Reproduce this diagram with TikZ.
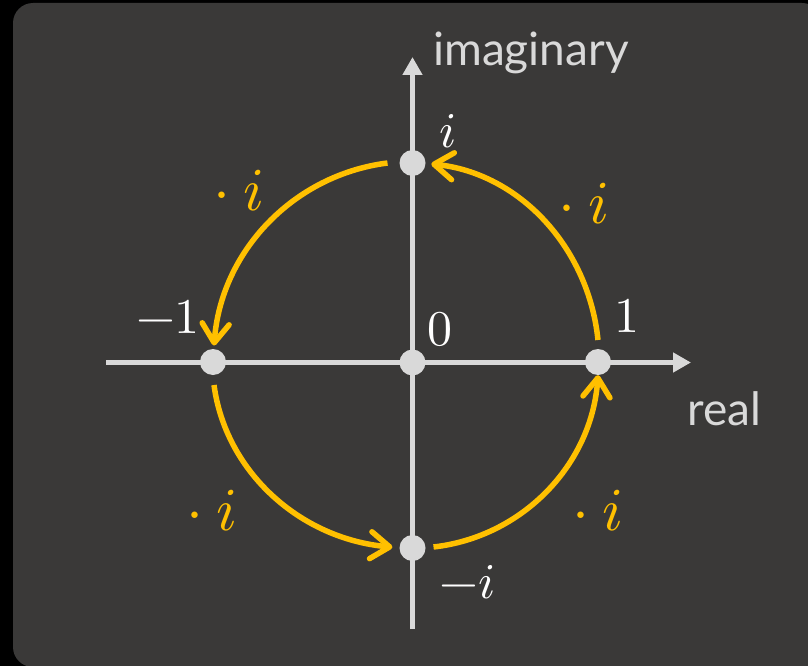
\documentclass[tikz,border=0pt]{standalone}
\usepackage{fontspec}
\usepackage{unicode-math}
\setmathfont{Latin Modern Math}
\setsansfont{Lato}
\usetikzlibrary{arrows.meta}
\definecolor{bgdark}{HTML}{3A3938}
\definecolor{amber}{HTML}{FFC000}
\definecolor{axisgray}{HTML}{D9D9D9}
\begin{document}
\begin{tikzpicture}[x=1pt,y=1pt,
  axis/.style={line width=5.5pt, draw=axisgray, -{Triangle[length=18pt,width=19pt]}},
  pt/.style={circle, fill=axisgray, minimum size=26pt, inner sep=0pt},
  turn/.style={line width=5.5pt, draw=amber, -{Straight Barb[length=19pt,width=27pt,round]}},
  mlab/.style={text=white, font=\fontsize{50}{60}\selectfont, inner sep=0pt, anchor=base},
  olab/.style={text=amber, font=\fontsize{61}{70}\selectfont, inner sep=0pt, anchor=base},
  alab/.style={text=axisgray, font=\sffamily\fontsize{46}{55}\selectfont, inner sep=0pt, anchor=base west}]
\useasboundingbox (0,0) rectangle (808,-666);
\fill[black] (0,0) rectangle (808,-666);
\begin{scope}
\clip (0,0) rectangle (808,-666);
\fill[bgdark, rounded corners=20pt] (13,-3) rectangle (822,-667);
\end{scope}
% axes
\coordinate (xl) at (106,-362.5);
\coordinate (xr) at (691,-362.5);
\coordinate (yb) at (412.5,-629);
\coordinate (yt) at (412.5,-57);
\draw[axis] (xl) -- (xr);
\draw[axis] (yb) -- (yt);
% points
\node[pt] (p0) at (412.5,-362.5) {};
\node[pt] (p1) at (598,-362) {};
\node[pt] (pi) at (412.5,-163) {};
\node[pt] (pm1) at (213,-362) {};
\node[pt] (pmi) at (412.5,-548) {};
% quarter turns (multiplication by i)
\draw[turn] ([yshift=22pt]p1.center) arc[start angle=6.35, end angle=84.4, x radius=186, y radius=199];
\draw[turn] ([xshift=-25pt]pi.center) arc[start angle=97.2, end angle=175.7, x radius=199, y radius=199];
\draw[turn] ([xshift=1pt,yshift=-23pt]pm1.center) arc[start angle=187.1, end angle=264.5, x radius=199, y radius=186];
\draw[turn] ([xshift=21pt,yshift=1pt]pmi.center) arc[start angle=276.5, end angle=356, x radius=186, y radius=186];
% labels
\node[mlab] (li) at (448,-147) {$i$};
\node[mlab] (l0) at (440,-345) {$0$};
\node[mlab] (l1) at (627,-332) {$1$};
\node[mlab] (lm1) at (168,-333) {$-1$};
\node[mlab] (lmi) at (468,-598) {$-i$};
\node[olab] (oTR) at (584,-223) {$\cdot\> i$};
\node[olab] (oTL) at (239,-210) {$\cdot\> i$};
\node[olab] (oBL) at (212,-530) {$\cdot\> i$};
\node[olab] (oBR) at (598,-530) {$\cdot\> i$};
\node[alab] (im) at (433,-66) {imaginary};
\node[alab] (re) at (687,-425) {real};
\end{tikzpicture}
\end{document}
